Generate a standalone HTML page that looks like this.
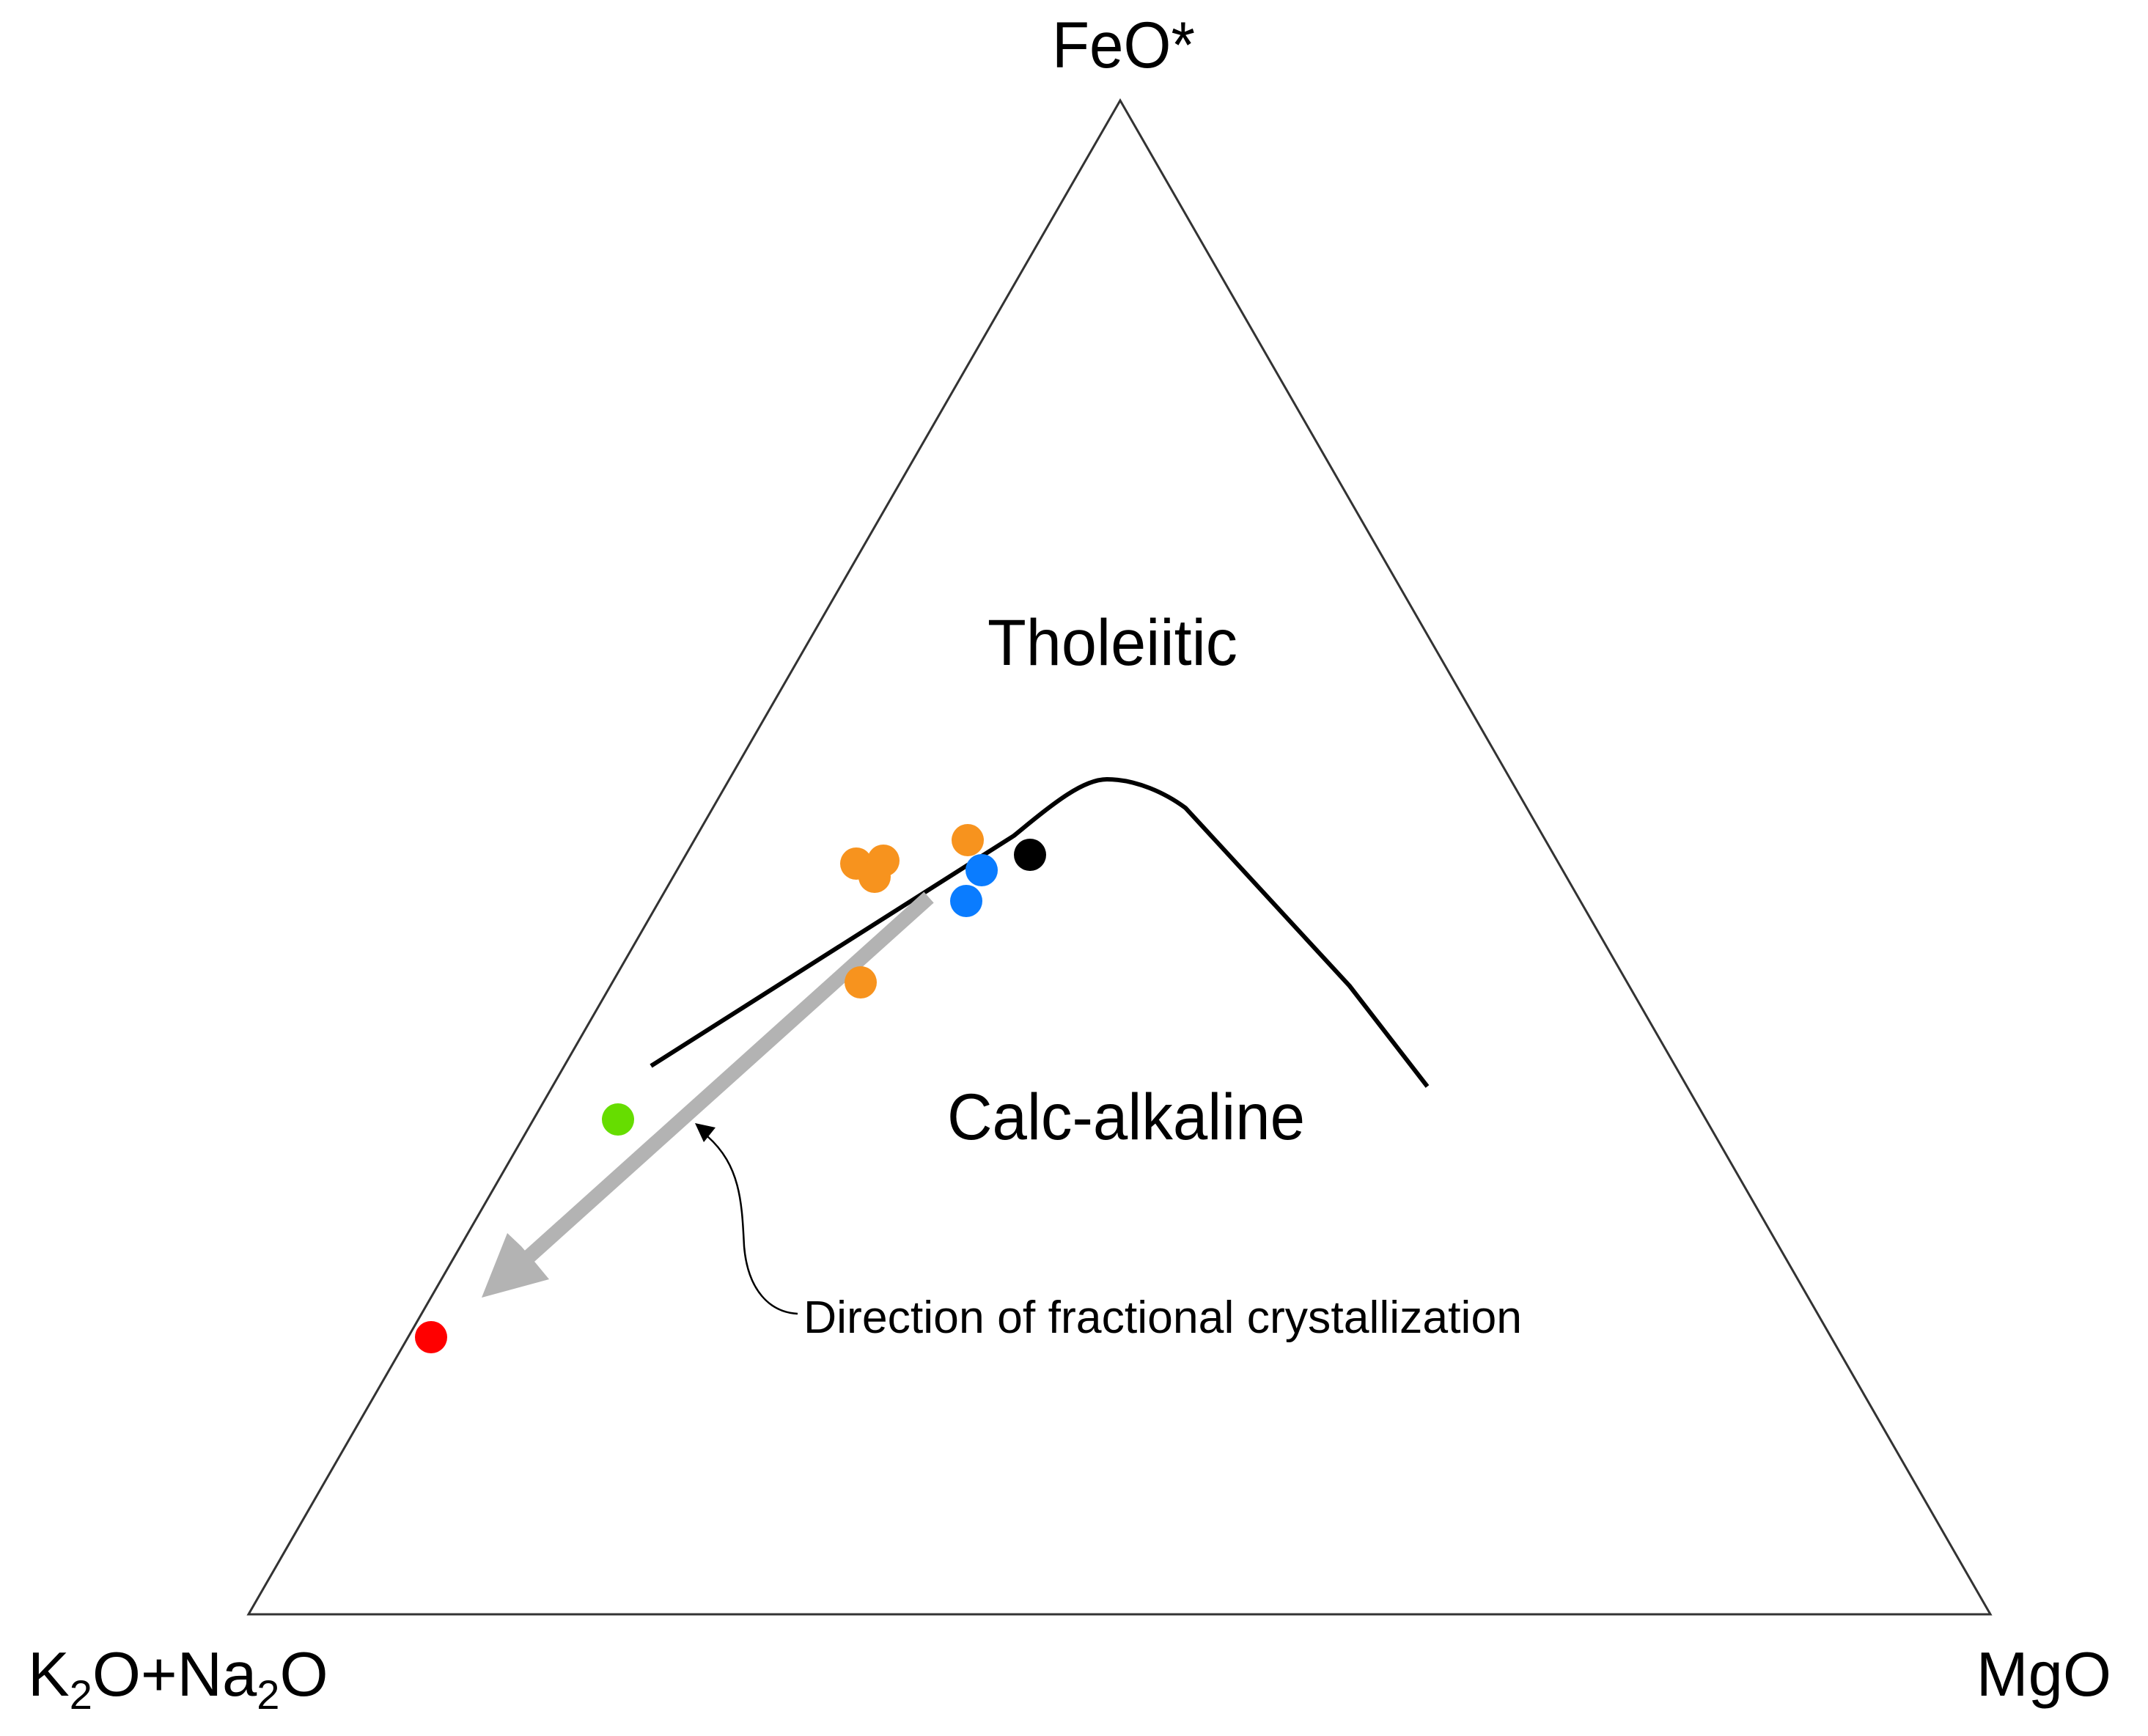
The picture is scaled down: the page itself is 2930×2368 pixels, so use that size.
<!DOCTYPE html>
<html><head><meta charset="utf-8"><style>html,body{margin:0;padding:0;background:#fff}svg{display:block}</style></head>
<body>
<svg width="2930" height="2368" viewBox="0 0 2930 2368" xmlns="http://www.w3.org/2000/svg" font-family="Liberation Sans, Arial, sans-serif">
<rect width="2930" height="2368" fill="#fff"/>
<polygon points="1528,137 339,2202 2715,2202" fill="none" stroke="#333" stroke-width="3"/>
<text x="1435" y="92" font-size="89" textLength="195" lengthAdjust="spacingAndGlyphs">FeO*</text>
<text x="1347" y="907" font-size="89" textLength="341" lengthAdjust="spacingAndGlyphs">Tholeiitic</text>
<text x="1292" y="1554" font-size="89" textLength="488" lengthAdjust="spacingAndGlyphs">Calc-alkaline</text>
<text x="38" y="2313" font-size="85">K<tspan font-size="56" dy="18">2</tspan><tspan dy="-18">O+Na</tspan><tspan font-size="56" dy="18">2</tspan><tspan dy="-18">O</tspan></text>
<text x="2880" y="2313" font-size="85" text-anchor="end">MgO</text>
<path d="M888,1454 L1383,1140 C1440,1093 1478,1063 1510,1063 C1550,1063 1590,1082 1617,1102 L1841,1345 L1947,1482" fill="none" stroke="#000" stroke-width="6"/>
<line x1="1267" y1="1224" x2="715" y2="1720" stroke="#b3b3b3" stroke-width="20"/>
<polygon points="657,1770 692,1682 711,1700 730,1722 749,1745" fill="#b3b3b3"/>
<g>
<circle cx="1168" cy="1178" r="22" fill="#f7931e"/>
<circle cx="1205" cy="1174" r="22" fill="#f7931e"/>
<circle cx="1193" cy="1196" r="22" fill="#f7931e"/>
<circle cx="1320" cy="1146" r="22" fill="#f7931e"/>
<circle cx="1174" cy="1340" r="22" fill="#f7931e"/>
<circle cx="1339" cy="1187" r="22" fill="#0a7cff"/>
<circle cx="1318" cy="1229" r="22" fill="#0a7cff"/>
<circle cx="1405" cy="1166" r="22" fill="#000"/>
<circle cx="843" cy="1527" r="22" fill="#66dd00"/>
<circle cx="588" cy="1824" r="22" fill="#ff0000"/>
</g>
<path d="M1088,1792 C1050,1790 1020,1760 1015,1700 C1012,1640 1010,1590 965,1550" fill="none" stroke="#000" stroke-width="2.5"/>
<polygon points="948,1532 976,1538 960,1558" fill="#000"/>
<text x="1096" y="1818" font-size="62" textLength="980" lengthAdjust="spacingAndGlyphs">Direction of fractional crystallization</text>
</svg>
</body></html>
